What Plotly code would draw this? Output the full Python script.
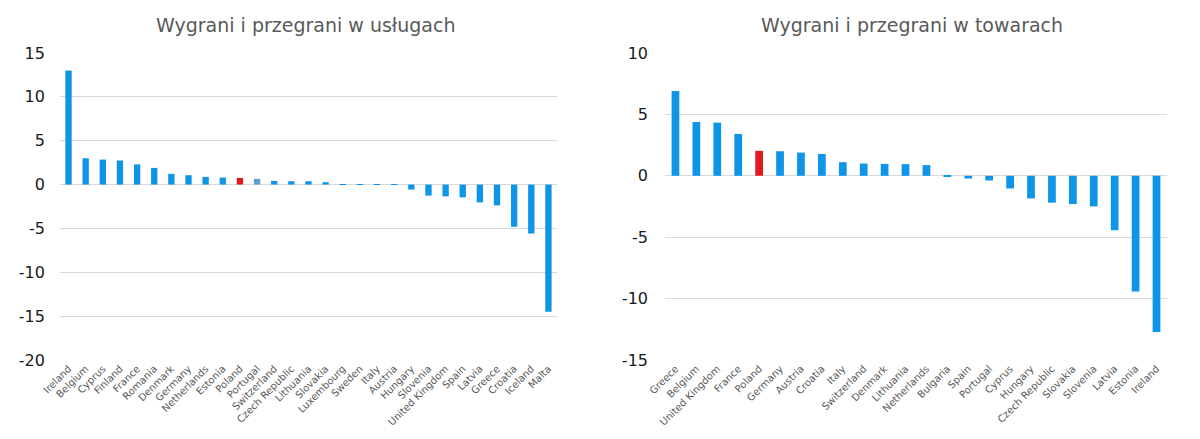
import plotly.graph_objects as go

# Left chart: services
svc_countries = ["Ireland", "Belgium", "Cyprus", "Finland", "France", "Romania", "Denmark",
                 "Germany", "Netherlands", "Estonia", "Poland", "Portugal", "Switzerland",
                 "Czech Republic", "Lithuania", "Slovakia", "Luxembourg", "Sweden", "Italy",
                 "Austria", "Hungary", "Slovenia", "United Kingdom", "Spain", "Latvia",
                 "Greece", "Croatia", "Iceland", "Malta"]
svc_values = [13.0, 3.0, 2.85, 2.75, 2.3, 1.9, 1.22, 1.07, 0.88, 0.8, 0.76, 0.65, 0.42,
              0.38, 0.38, 0.27, 0.05, 0.03, 0.02, -0.02, -0.57, -1.26, -1.34, -1.45, -2.03,
              -2.37, -4.81, -5.58, -14.5]

# Right chart: goods
gds_countries = ["Greece", "Belgium", "United Kingdom", "France", "Poland", "Germany",
                 "Austria", "Croatia", "Italy", "Switzerland", "Denmark", "Lithuania",
                 "Netherlands", "Bulgaria", "Spain", "Portugal", "Cyprus", "Hungary",
                 "Czech Republic", "Slovakia", "Slovenia", "Latvia", "Estonia", "Ireland"]
gds_values = [6.9, 4.38, 4.33, 3.41, 2.03, 2.0, 1.89, 1.78, 1.11, 1.0, 0.97, 0.95, 0.87,
              -0.05, -0.22, -0.38, -1.03, -1.84, -2.19, -2.3, -2.49, -4.43, -9.43, -12.73]

svc_ticks = [15, 10, 5, 0, -5, -10, -15, -20]
svc_tick_labels = ["15", "10", "5", "0", "-5", "-10", "-15", "-20"]
gds_ticks = [10, 5, 0, -5, -10, -15]
gds_tick_labels = ["10", "5", "0", "-5", "-10", "-15"]

BLUE = "#0e95e8"
RED = "#e0191f"
STEEL = "#5e9bd3"

def colors(countries):
    return [RED if c == "Poland" else BLUE for c in countries]

svc_colors = colors(svc_countries)
svc_colors[svc_countries.index("Portugal")] = STEEL

fig = go.Figure()
fig.add_trace(go.Bar(x=svc_countries, y=svc_values, marker=dict(color=svc_colors, line=dict(width=0)),
                     xaxis="x", yaxis="y", showlegend=False))
fig.add_trace(go.Bar(x=gds_countries, y=gds_values, marker=dict(color=colors(gds_countries), line=dict(width=0)),
                     xaxis="x2", yaxis="y2", showlegend=False))

FONT = "DejaVu Sans, Verdana, sans-serif"
tickfont_y = dict(family=FONT, size=16, color="#1a1a1a")
tickfont_x = dict(family=FONT, size=10, color="#595959")
grid = "#d9d9d9"

fig.update_layout(
    width=1200, height=439,
    margin=dict(l=0, r=0, t=45, b=87),
    paper_bgcolor="white", plot_bgcolor="white",
    bargap=0.63,
    xaxis=dict(domain=[0.0433, 0.4575], tickangle=-45, tickfont=tickfont_x, showgrid=False,
               showline=False, ticks="", anchor="y", automargin=False),
    yaxis=dict(range=[-20, 15], tickvals=svc_ticks, ticktext=svc_tick_labels, tickfont=tickfont_y,
               showgrid=True, gridcolor=grid, zeroline=True, zerolinecolor=grid, zerolinewidth=1,
               showline=False, anchor="x", ticklabelstandoff=14, automargin=False),
    xaxis2=dict(domain=[0.5475, 0.9658], tickangle=-45, tickfont=tickfont_x, showgrid=False,
                showline=False, ticks="", anchor="y2", automargin=False),
    yaxis2=dict(range=[-15, 10], tickvals=gds_ticks, ticktext=gds_tick_labels, tickfont=tickfont_y,
                showgrid=True, gridcolor=grid, zeroline=True, zerolinecolor=grid, zerolinewidth=1,
                showline=False, anchor="x2", ticklabelstandoff=16, automargin=False),
    annotations=[
        dict(text="Wygrani i przegrani w usługach", x=0.2475, y=1.0, xref="paper", yref="paper",
             xanchor="center", yshift=28, yanchor="middle", showarrow=False,
             font=dict(family=FONT, size=19, color="#595959")),
        dict(text="Wygrani i przegrani w towarach", x=0.7533, y=1.0, xref="paper", yref="paper",
             xanchor="center", yshift=28, yanchor="middle", showarrow=False,
             font=dict(family=FONT, size=19, color="#595959")),
    ],
)

fig.write_html("out.html")
